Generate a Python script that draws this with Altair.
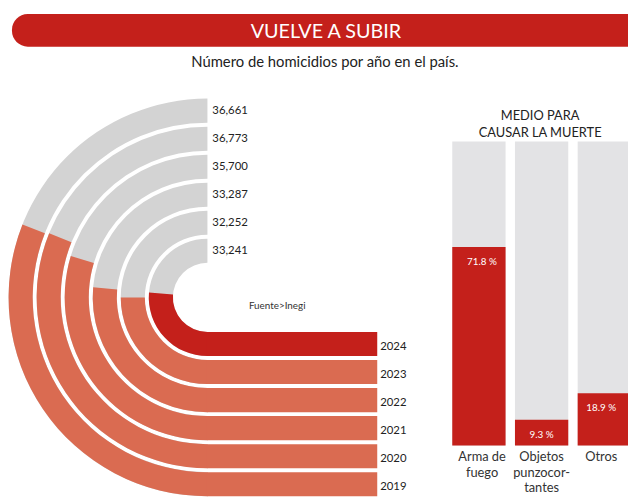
import math
import altair as alt
import pandas as pd

# ---------------- data ----------------
years = [2019, 2020, 2021, 2022, 2023, 2024]
homicidios = [36661, 36773, 35700, 33287, 32252, 33241]

causas = ["Arma de fuego", "Objetos punzocortantes", "Otros"]
causas_etiqueta = [["Arma de", "fuego"], ["Objetos", "punzocor-", "tantes"], ["Otros"]]
porcentajes = [71.8, 9.3, 18.9]

titulo = "VUELVE A SUBIR"
subtitulo = "Número de homicidios por año en el país."
titulo_barras = ["MEDIO PARA", "CAUSAR LA MUERTE"]
fuente = "Fuente>Inegi"

# gauge scale for the ring arcs (value -> angle)
GAUGE_LO, GAUGE_HI = 13800, 50700

# ---------------- layout / style ----------------
W, H = 628, 490
CX, CY = 202, 290
R0, STEP, THICK = 35, 28.4, 24.4
BAR_END = 374
RED = "#C4201B"
SALMON = "#DA6B51"
GRAY = "#D3D3D3"
BARBG = "#E3E3E5"
INK = "#222222"
FONT = "Lato"

ring_df = pd.DataFrame({"year": years, "value": homicidios})
ring_df["ring"] = [len(years) - 1 - i for i in range(len(years))]

bars_df = pd.DataFrame({"cat": causas, "pct": porcentajes})
bars_df["label"] = causas_etiqueta
bars_df["pct_text"] = [f"{p} %" for p in porcentajes]

hdr_df = pd.DataFrame({"t": [titulo], "s": [subtitulo], "f": [fuente]})
hdr_df["bt"] = [titulo_barras]

theta_scale = alt.Scale(domain=[GAUGE_LO, GAUGE_HI], range=[math.pi, 2 * math.pi])
radius_scale = alt.Scale(type="linear", domain=[0, 6], range=[R0, R0 + 6 * STEP], zero=False)
ybot_scale = alt.Scale(domain=[0, 6], range=[CY + R0, CY + R0 + 6 * STEP], zero=False)
ytop_scale = alt.Scale(domain=[0, 6], range=[CY - R0, CY - R0 - 6 * STEP], zero=False)
color = alt.Color("year:N", scale=alt.Scale(domain=years, range=[SALMON] * 5 + [RED]), legend=None)

base = alt.Chart(ring_df).transform_calculate(
    r1=f"datum.ring + {THICK / STEP}",
    rmid=f"datum.ring + {THICK / STEP / 2}",
    lo=f"{GAUGE_LO}",
    hi=f"{GAUGE_HI}",
)

gray_arcs = base.mark_arc(color=GRAY).encode(
    x=alt.value(CX), y=alt.value(CY),
    theta=alt.Theta("lo:Q", scale=theta_scale, stack=None),
    theta2="hi:Q",
    radius=alt.Radius("ring:Q", scale=radius_scale),
    radius2="r1:Q",
)
red_arcs = base.mark_arc().encode(
    x=alt.value(CX), y=alt.value(CY),
    theta=alt.Theta("lo:Q", scale=theta_scale, stack=None),
    theta2="value:Q",
    radius=alt.Radius("ring:Q", scale=radius_scale),
    radius2="r1:Q",
    color=color,
)
straight = base.mark_rect().encode(
    x=alt.value(CX - 0.5), x2=alt.value(BAR_END),
    y=alt.Y("ring:Q", scale=ybot_scale, axis=None),
    y2="r1:Q",
    color=color,
)
num_labels = base.mark_text(font=FONT, fontSize=11.5, color=INK, align="left", baseline="middle").encode(
    x=alt.value(CX + 5),
    y=alt.Y("rmid:Q", scale=ytop_scale, axis=None),
    text=alt.Text("value:Q", format=","),
)
year_labels = base.mark_text(font=FONT, fontSize=11.5, color=INK, align="left", baseline="middle", dy=3).encode(
    x=alt.value(BAR_END + 3),
    y=alt.Y("rmid:Q", scale=ybot_scale, axis=None),
    text=alt.Text("year:N"),
)

hdr = alt.Chart(hdr_df)
header_rect = hdr.mark_rect(color=RED, cornerRadius=16).encode(
    x=alt.value(4), x2=alt.value(700), y=alt.value(3), y2=alt.value(36)
)
header_text = hdr.mark_text(font=FONT, fontSize=20, color="white", align="center", baseline="middle").encode(
    x=alt.value(322), y=alt.value(21), text="t:N"
)
sub_text = hdr.mark_text(font=FONT, fontSize=15, color=INK, align="center", baseline="middle").encode(
    x=alt.value(321), y=alt.value(52), text="s:N"
)
fuente_text = hdr.mark_text(font=FONT, fontSize=10, color="#333333", align="left", baseline="middle").encode(
    x=alt.value(244), y=alt.value(299), text="f:N"
)
bar_title = hdr.mark_text(font=FONT, fontSize=13, color=INK, align="center", baseline="middle",
                          lineHeight=18).encode(
    x=alt.value(539), y=alt.value(106), text="bt"
)

xband = alt.Scale(domain=causas, range=[450, 631], paddingInner=0.15, paddingOuter=0)
ybar = alt.Scale(domain=[0, 110], range=[440, 132])
bbase = alt.Chart(bars_df).transform_calculate(full="110")

bg_bars = bbase.mark_bar(color=BARBG).encode(
    x=alt.X("cat:N", scale=xband, axis=None, sort=causas),
    y=alt.Y("full:Q", scale=ybar, axis=None),
)
red_bars = bbase.mark_bar(color=RED).encode(
    x=alt.X("cat:N", scale=xband, axis=None, sort=causas),
    y=alt.Y("pct:Q", scale=ybar, axis=None),
)
pct_text = bbase.mark_text(font=FONT, fontSize=10, color="white", align="center", baseline="middle", dy=15).encode(
    x=alt.X("cat:N", scale=xband, axis=None, sort=causas),
    y=alt.Y("pct:Q", scale=ybar, axis=None),
    text="pct_text:N",
)
cat_text = bbase.mark_text(font=FONT, fontSize=13, color="#333333", align="center", baseline="top",
                           lineHeight=15.5).encode(
    x=alt.X("cat:N", scale=xband, axis=None, sort=causas),
    y=alt.value(446),
    text="label",
)

chart = alt.layer(
    header_rect, header_text, sub_text,
    gray_arcs, red_arcs, straight, num_labels, year_labels, fuente_text,
    bar_title, bg_bars, red_bars, pct_text, cat_text,
).resolve_scale(
    x="independent", y="independent"
).properties(
    width=W, height=H,
    autosize=alt.AutoSizeParams(type="none"),
    padding=0,
    background="white",
).configure_view(stroke=None)

chart.save("out.html", embed_options={"renderer": "svg", "actions": False})
